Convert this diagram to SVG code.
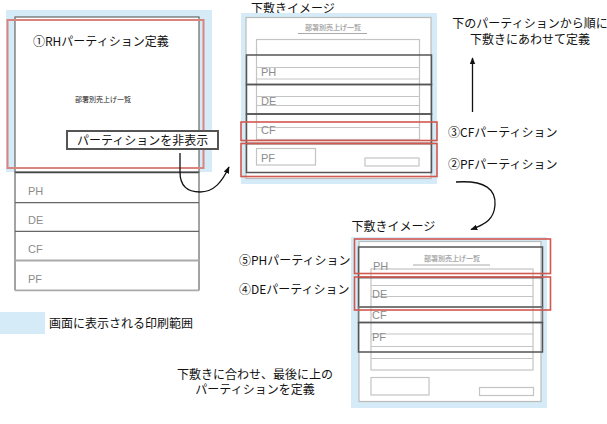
<svg xmlns="http://www.w3.org/2000/svg" width="607" height="424" viewBox="0 0 607 424">
<style>
  text { font-family: "Noto Sans CJK JP", "DejaVu Sans", sans-serif; }
  .t { font-size: 12px; fill: #111; }
  .lbl { font-family: "Liberation Sans Narrow", "Liberation Sans", sans-serif; font-size: 11px; fill: #8c8c8c; }
  .ttl { font-size: 7px; fill: #222; }
  .ttlg { font-size: 7px; fill: #aaa; font-weight: bold; }
  .blue { fill: #d5ebf7; stroke: none; }
  .page { fill: #fff; stroke: #bbb; stroke-width: 1.2; }
  .tbl { fill: none; stroke: #c4c4c4; stroke-width: 1.2; }
  .part { fill: none; stroke: #555; stroke-width: 1.5; }
  .red { fill: none; stroke: #d2574f; stroke-width: 1.6; }
  .conn { fill: none; stroke: #111; stroke-width: 1.3; }
</style>
<defs>
  <marker id="ah" viewBox="0 0 10 10" refX="9" refY="5" markerWidth="7" markerHeight="7" orient="auto" markerUnits="userSpaceOnUse">
    <path d="M0,1 L10,5 L0,9 Z" fill="#111"/>
  </marker>
</defs>

<!-- Left panel -->
<g id="panel-left">
  <rect class="blue" x="6" y="10" width="206" height="162"/>
  <rect x="15" y="17" width="184" height="155" fill="#fff" stroke="#666" stroke-width="1.2"/>
  <rect x="7.5" y="20" width="196" height="148" fill="none" stroke="#d9857f" stroke-width="2"/>
  <text class="t" x="33" y="46" font-size="12.5">①RHパーティション定義</text>
  <text class="ttl" x="103" y="101.5" text-anchor="middle">部署別売上げ一覧</text>
  <rect x="15" y="172" width="184" height="118" fill="#fff" stroke="none"/>
  <line x1="15" y1="172.5" x2="199" y2="172.5" stroke="#444" stroke-width="1.5"/>
  <line x1="15" y1="172" x2="15" y2="290.5" stroke="#666" stroke-width="1.2"/>
  <line x1="199" y1="172" x2="199" y2="290.5" stroke="#666" stroke-width="1.2"/>
  <line x1="15" y1="202.7" x2="199" y2="202.7" stroke="#666" stroke-width="1.2"/>
  <line x1="15" y1="231.3" x2="199" y2="231.3" stroke="#666" stroke-width="1.2"/>
  <line x1="15" y1="260.5" x2="199" y2="260.5" stroke="#aaa" stroke-width="1.8"/>
  <line x1="15" y1="290.3" x2="199" y2="290.3" stroke="#aaa" stroke-width="1.8"/>
  <text class="lbl" x="28" y="195">PH</text>
  <text class="lbl" x="28" y="223.5">DE</text>
  <text class="lbl" x="28" y="252.5">CF</text>
  <text class="lbl" x="28" y="282.5">PF</text>
</g>

<g id="box-hide">
  <rect x="67" y="131" width="151" height="18" fill="#fff" stroke="#555" stroke-width="2"/>
  <text class="t" x="77" y="145">パーティションを非表示</text>
</g>

<!-- Top-middle underlay -->
<g id="underlay-1">
  <text class="t" x="251" y="12.5" font-size="11.5">下敷きイメージ</text>
  <rect class="blue" x="241" y="13" width="196" height="171"/>
  <rect class="page" x="246" y="17.5" width="185" height="161"/>
  <text class="ttlg" x="333" y="30" text-anchor="middle">部署別売上げ一覧</text>
  <line x1="298" y1="33.5" x2="367" y2="33.5" stroke="#aaa" stroke-width="1.2"/>
  <rect class="tbl" x="256.5" y="39.5" width="163" height="100"/>
  <line class="tbl" x1="256.5" y1="67.5" x2="419.5" y2="67.5"/>
  <line class="tbl" x1="256.5" y1="79" x2="419.5" y2="79"/>
  <line class="tbl" x1="256.5" y1="96.5" x2="419.5" y2="96.5"/>
  <line class="tbl" x1="256.5" y1="105.5" x2="419.5" y2="105.5"/>
  <line class="tbl" x1="256.5" y1="127.5" x2="419.5" y2="127.5"/>
  <rect class="tbl" x="256.5" y="148.5" width="59" height="16.5"/>
  <rect class="tbl" x="365" y="158" width="54" height="8"/>
  <text class="lbl" x="261" y="76">PH</text>
  <text class="lbl" x="261" y="105">DE</text>
  <text class="lbl" x="261" y="133.5">CF</text>
  <text class="lbl" x="261" y="162">PF</text>
  <rect class="part" x="246.5" y="55" width="185" height="29.5"/>
  <rect class="part" x="246.5" y="84.5" width="185" height="29.5"/>
  <rect class="part" x="246.5" y="114" width="185" height="29.5"/>
  <rect class="part" x="246.5" y="143.5" width="185" height="29"/>
  <rect class="red" x="241" y="122" width="196" height="18.5"/>
  <rect class="red" x="241" y="143.5" width="196" height="33"/>
</g>

<!-- Bottom-right underlay -->
<g id="underlay-2">
  <text class="t" x="351.5" y="231" font-size="11.5">下敷きイメージ</text>
  <rect class="blue" x="351" y="237" width="196" height="171"/>
  <rect class="page" x="359" y="241.5" width="182" height="160"/>
  <text class="ttlg" x="452" y="261" text-anchor="middle">部署別売上げ一覧</text>
  <line x1="413" y1="265" x2="490" y2="265" stroke="#aaa" stroke-width="1.2"/>
  <rect class="tbl" x="371" y="269" width="162" height="101"/>
  <line class="tbl" x1="371" y1="285.5" x2="533" y2="285.5"/>
  <line class="tbl" x1="371" y1="296.5" x2="533" y2="296.5"/>
  <line class="tbl" x1="371" y1="334" x2="533" y2="334"/>
  <line class="tbl" x1="371" y1="346.5" x2="533" y2="346.5"/>
  <line class="tbl" x1="371" y1="358.5" x2="533" y2="358.5"/>
  <rect class="tbl" x="371" y="377.5" width="58" height="17.5"/>
  <rect class="tbl" x="479.5" y="387.5" width="54" height="8"/>
  <text class="lbl" x="373" y="269.5">PH</text>
  <text class="lbl" x="372" y="297.5">DE</text>
  <text class="lbl" x="372" y="318.5">CF</text>
  <text class="lbl" x="372" y="341">PF</text>
  <rect class="part" x="358.5" y="247" width="184" height="30.5"/>
  <rect class="part" x="358.5" y="277.5" width="184" height="29.5"/>
  <rect x="358.5" y="307" width="184" height="15.5" fill="none" stroke="#777" stroke-width="1.5"/>
  <rect class="part" x="358.5" y="322.5" width="184" height="29.5"/>
  <rect class="red" x="354.5" y="239" width="196" height="34.5"/>
  <rect class="red" x="354.5" y="277" width="196" height="33"/>
</g>

<!-- Side labels -->
<g id="note-top">
  <text class="t" x="530" y="28" text-anchor="middle">下のパーティションから順に</text>
  <text class="t" x="530" y="43.5" text-anchor="middle">下敷きにあわせて定義</text>
</g>
<g id="label-cf"><text class="t" x="448" y="136.5">③CFパーティション</text></g>
<g id="label-pf"><text class="t" x="448" y="168.5">②PFパーティション</text></g>
<g id="label-ph"><text class="t" x="239" y="265">⑤PHパーティション</text></g>
<g id="label-de"><text class="t" x="239" y="293.5">④DEパーティション</text></g>
<g id="note-bottom">
  <text class="t" x="255" y="378.5" text-anchor="middle" font-size="11.5">下敷きに合わせ、最後に上の</text>
  <text class="t" x="255" y="394" text-anchor="middle" font-size="11.5">パーティションを定義</text>
</g>
<g id="legend">
  <rect class="blue" x="0" y="312" width="45" height="22"/>
  <text class="t" x="49" y="327.5">画面に表示される印刷範囲</text>
</g>

<!-- Connectors -->
<g id="connectors">
  <path class="conn" d="M180,153 L180,172 C180,186 188,192 200,192 C214,192 222,182 229,167" marker-end="url(#ah)"/>
  <path class="conn" d="M472.5,112 L472.5,58" marker-end="url(#ah)"/>
  <path class="conn" d="M456,182 C486,180 496,190 495,205 C494,219 486,224 471,229.5" marker-end="url(#ah)"/>
</g>
</svg>
